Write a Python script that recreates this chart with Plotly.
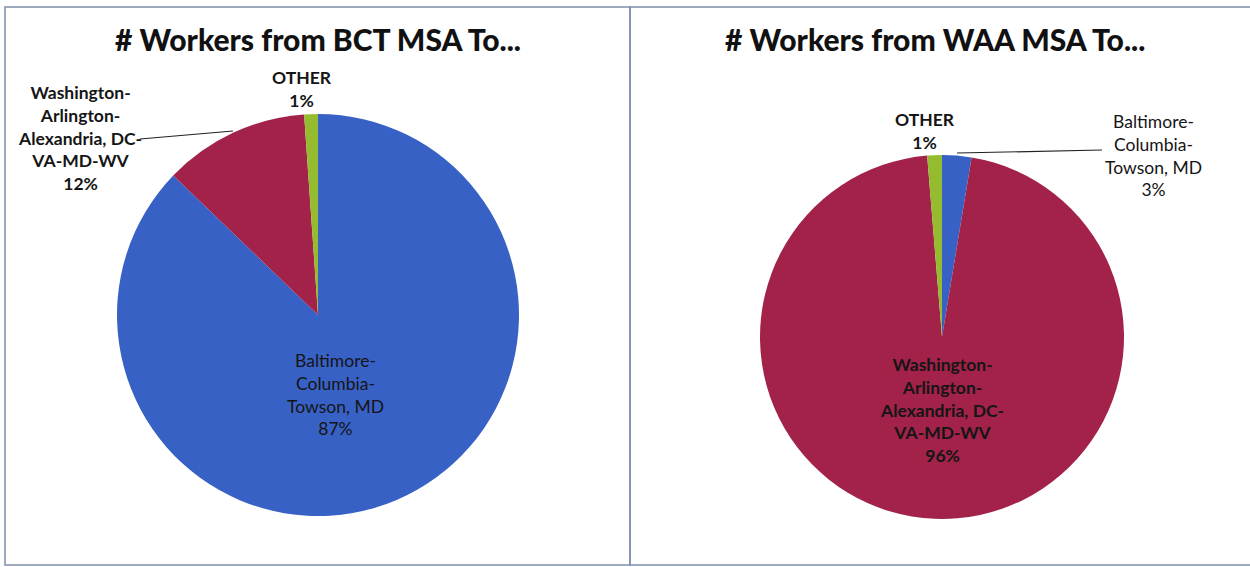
import plotly.graph_objects as go

W, H = 1250, 567

# data (share of workers, %)
categories = ["Baltimore-Columbia-Towson, MD",
              "Washington-Arlington-Alexandria, DC-VA-MD-WV",
              "OTHER"]
wrapped = ["Baltimore-<br>Columbia-<br>Towson, MD",
           "Washington-<br>Arlington-<br>Alexandria, DC-<br>VA-MD-WV",
           "OTHER"]
bct_share = [87.2, 11.7, 1.1]
waa_share = [2.6, 96.1, 1.3]
titles = ["# Workers from BCT MSA To...", "# Workers from WAA MSA To..."]
colors = ["#3861c6", "#a2224a", "#95bb2e"]


def px(x, y):
    # pixel position -> paper coords
    return x / W, 1 - y / H


def domain(cx, cy, r):
    x0, y1 = px(cx - r, cy - r)
    x1, y0 = px(cx + r, cy + r)
    return dict(x=[x0, x1], y=[y0, y1])


fig = go.Figure()

fig.add_trace(go.Pie(
    labels=categories, values=bct_share, sort=False, direction="clockwise",
    rotation=0, textinfo="none", marker=dict(colors=colors, line=dict(width=0)),
    domain=domain(318, 315, 201), showlegend=False, name="BCT"
))
fig.add_trace(go.Pie(
    labels=categories, values=waa_share, sort=False, direction="clockwise",
    rotation=0, textinfo="none", marker=dict(colors=colors, line=dict(width=0)),
    domain=domain(942, 337, 182), showlegend=False, name="WAA"
))


def label(i, share, x, y, bold=True):
    ax, ay = px(x, y)
    fig.add_annotation(
        x=ax, y=ay, xref="paper", yref="paper", showarrow=False,
        xanchor="center", yanchor="middle",
        text=f"{wrapped[i]}<br>{share[i]:.0f}%", align="center",
        font=dict(family="Lato, 'Open Sans', sans-serif", size=17.5,
                  color="#151515", weight=700 if bold else 400)
    )


# titles
for t, x in zip(titles, [318, 935]):
    ax, ay = px(x, 39)
    fig.add_annotation(x=ax, y=ay, xref="paper", yref="paper", showarrow=False,
                       xanchor="center", yanchor="middle",
                       text=t, font=dict(family="Lato, sans-serif", size=30,
                                         color="#111111", weight=900))

# left pie labels
label(0, bct_share, 335, 394, bold=False)
label(1, bct_share, 80, 138)
label(2, bct_share, 302, 89)
# right pie labels
label(0, waa_share, 1153, 155, bold=False)
label(1, waa_share, 942, 410)
label(2, waa_share, 925, 131)

shapes = []
# leader lines
for (x0, y0), (x1, y1) in [((140, 139), (233, 131)), ((957, 153), (1102, 150))]:
    a, b = px(x0, y0)
    c, d = px(x1, y1)
    shapes.append(dict(type="line", xref="paper", yref="paper", x0=a, y0=b, x1=c, y1=d,
                       line=dict(color="#222222", width=1.2)))
# panel borders (right panel runs past the edge of the picture)
for x0, x1 in [(5, 630), (630, 1258)]:
    a, b = px(x0, 565)
    c, d = px(x1, 7)
    shapes.append(dict(type="rect", xref="paper", yref="paper", x0=a, y0=b, x1=c, y1=d,
                       line=dict(color="#7f8ea8", width=1.5)))

fig.update_layout(
    width=W, height=H, margin=dict(l=0, r=0, t=0, b=0),
    paper_bgcolor="white", plot_bgcolor="white", shapes=shapes
)

fig.write_html("out.html", config={"displayModeBar": False},
               post_script="document.body.style.margin='0';document.body.style.overflow='hidden';")
